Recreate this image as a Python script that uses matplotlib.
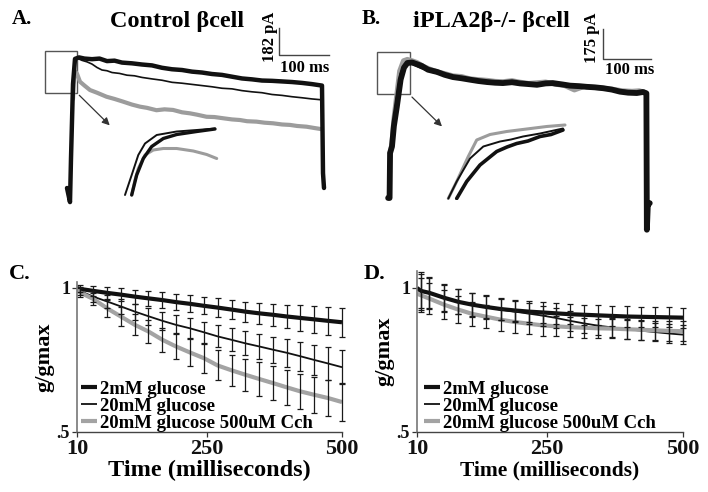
import matplotlib
matplotlib.use("Agg")
import matplotlib.pyplot as plt
from matplotlib.patches import Rectangle

plt.rcParams['font.family'] = ['Liberation Serif', 'DejaVu Serif']
plt.rcParams['font.weight'] = 'bold'
plt.rcParams['axes.labelweight'] = 'bold'

#### TRACE DATA (ms, pA) ####
# panel A, control beta cell
a_t_2mM = [-10, -4, -2, 2, 6, 14, 25, 40, 55, 70, 85, 100, 120, 140, 160, 180, 200, 220, 240,
           260, 280, 300, 320, 340, 360, 380, 400, 420, 440, 460, 480, 500, 502, 504]
a_i_2mM = [0, -95, 200, 700, 870, 880, 872, 868, 872, 855, 858, 845, 840, 832, 826, 810, 800, 795, 784,
           778, 768, 762, 750, 738, 732, 724, 722, 718, 714, 708, 700, 690, 100, 0]
a_t_20mM = [2, 6, 12, 20, 30, 40, 50, 60, 70, 80, 95, 110, 125, 140, 160, 180, 200, 220, 240, 260,
            280, 300, 320, 340, 360, 380, 400, 420, 440, 460, 480, 500]
a_i_20mM = [700, 868, 872, 860, 850, 835, 812, 795, 790, 778, 772, 760, 756, 745, 735, 726, 712, 706, 698, 690,
            682, 672, 668, 656, 648, 642, 630, 624, 615, 608, 600, 594]
a_t_cch = [2, 5, 10, 16, 25, 36, 50, 69, 85, 102, 120, 136, 150, 169, 185, 202, 220, 236, 250, 269,
           285, 302, 320, 336, 350, 369, 385, 402, 420, 436, 450, 469, 485, 500]
a_i_cch = [600, 790, 770, 716, 690, 660, 642, 615, 600, 582, 562, 548, 540, 524, 530, 526, 510, 503, 494, 480,
           478, 470, 462, 458, 450, 447, 440, 436, 428, 425, 418, 413, 404, 396]

# panel B, iPLA2b-/- beta cell
b_t_2mM = [-8, -5, -4, 0, 4, 10, 18, 25, 32, 42, 52, 62, 75, 94, 110, 127, 145, 162, 180, 198, 215, 231,
           250, 267, 285, 302, 320, 335, 355, 371, 390, 406, 423, 440, 458, 475, 492, 510, 523, 530, 531, 533, 537]
b_i_2mM = [0, 0, 262, 300, 420, 530, 690, 760, 787, 790, 780, 770, 748, 735, 718, 705, 698, 690, 682, 676, 672, 670,
           675, 668, 664, 660, 668, 670, 662, 655, 652, 648, 645, 640, 632, 620, 614, 612, 618, 610, -185, -40, -30]
b_t_20mM = [-4, 0, 4, 10, 18, 26, 35, 45, 60, 80, 100, 125, 150, 175, 200, 225, 250, 275, 300, 325,
            350, 375, 400, 425, 450, 475, 500, 515, 528]
b_i_20mM = [262, 310, 440, 570, 720, 775, 790, 780, 760, 740, 725, 705, 695, 684, 676, 670, 668, 664, 660, 662,
            658, 652, 648, 642, 636, 626, 618, 616, 612]
b_t_cch = [-4, 0, 4, 10, 16, 24, 32, 42, 52, 65, 80, 95, 110, 127, 145, 162, 180, 198, 215, 231, 250, 267,
           285, 302, 320, 340, 360, 380, 400, 420, 440, 460, 480, 500, 515, 528]
b_i_cch = [262, 320, 460, 600, 740, 800, 808, 800, 790, 768, 750, 735, 725, 712, 708, 695, 690, 686, 680, 678, 684, 675,
           668, 672, 676, 664, 655, 630, 650, 645, 640, 634, 625, 622, 625, 615]

# insets (rising phase, expanded)
ia_t_20mM = [1.0, 1.67, 2.33, 3.0, 4.17, 6.17, 8.17, 10.0]
ia_i_20mM = [10, 50, 90, 113, 130, 137, 140, 143]
ia_t_2mM = [1.67, 2.17, 2.83, 3.67, 4.83, 6.17, 8.17, 10.0]
ia_i_2mM = [10, 50, 83, 107, 123, 131, 137, 142]
ia_t_cch = [1.67, 2.0, 2.33, 3.0, 3.83, 4.83, 6.17, 7.83, 9.17, 10.17]
ia_i_cch = [10, 40, 63, 90, 100, 103, 103, 98, 91, 83]

ib_t_2mM = [1.17, 2.17, 3.5, 5.17, 6.2, 7.17, 8.3, 9.5, 10.6, 11.8]
ib_i_2mM = [3, 37, 70, 97, 106, 113, 118, 127, 131, 140]
ib_t_20mM = [0.33, 1.17, 2.5, 3.83, 5.5, 6.6, 7.8, 9.5, 11.8]
ib_i_20mM = [3, 37, 83, 107, 117, 121, 127, 133, 143]
ib_t_cch = [0.33, 1.17, 2.33, 3.17, 4.5, 6.17, 8.17, 10.17, 12.0]
ib_i_cch = [3, 37, 87, 120, 131, 137, 142, 147, 150]

#### g/gmax DATA ####
c_time = [10, 15, 40, 66, 91, 117, 142, 168, 193, 219, 245, 270, 296, 321, 347, 372, 398, 423, 449, 474, 500]
c_2mM = [1.0, 0.997, 0.99, 0.983, 0.977, 0.97, 0.964, 0.958, 0.951, 0.945, 0.938, 0.932, 0.925, 0.918, 0.912,
         0.907, 0.901, 0.896, 0.891, 0.886, 0.881]
c_2mM_err = [0, 0.012, 0.018, 0.02, 0.022, 0.024, 0.025, 0.027, 0.028, 0.029, 0.03, 0.032, 0.033, 0.035, 0.037,
             0.039, 0.041, 0.044, 0.046, 0.049, 0.051]
c_20mM = [1.0, 0.99, 0.97, 0.953, 0.936, 0.918, 0.902, 0.886, 0.872, 0.86, 0.846, 0.832, 0.82, 0.808, 0.797,
          0.786, 0.775, 0.763, 0.75, 0.738, 0.725]
c_20mM_err = [0, 0.015, 0.02, 0.024, 0.026, 0.028, 0.03, 0.032, 0.033, 0.035, 0.036, 0.038, 0.04, 0.041, 0.043,
              0.045, 0.048, 0.05, 0.053, 0.056, 0.06]
c_cch = [1.0, 0.985, 0.962, 0.929, 0.901, 0.872, 0.849, 0.82, 0.797, 0.776, 0.756, 0.731, 0.714, 0.699, 0.684,
         0.67, 0.655, 0.641, 0.629, 0.618, 0.604]
c_cch_err = [0, 0.015, 0.022, 0.028, 0.032, 0.036, 0.04, 0.042, 0.045, 0.047, 0.05, 0.052, 0.054, 0.056, 0.058,
             0.06, 0.061, 0.062, 0.063, 0.064, 0.065]

d_time = [10, 17, 33, 60, 86, 112, 138, 164, 190, 216, 242, 266, 292, 318, 344, 370, 396, 422, 448, 474, 500]
d_2mM = [1.0, 0.99, 0.983, 0.966, 0.952, 0.942, 0.934, 0.927, 0.922, 0.918, 0.915, 0.912, 0.909, 0.907, 0.905,
         0.903, 0.901, 0.9, 0.899, 0.898, 0.897]
d_2mM_err = [0, 0.065, 0.055, 0.048, 0.044, 0.042, 0.04, 0.038, 0.037, 0.036, 0.036, 0.036, 0.035, 0.035, 0.035,
             0.035, 0.035, 0.035, 0.035, 0.035, 0.035]
d_20mM = [1.0, 0.99, 0.982, 0.966, 0.952, 0.942, 0.933, 0.925, 0.918, 0.911, 0.904, 0.896, 0.886, 0.877, 0.869,
          0.863, 0.857, 0.852, 0.847, 0.842, 0.838]
d_20mM_err = [0, 0.06, 0.052, 0.046, 0.043, 0.04, 0.038, 0.037, 0.036, 0.036, 0.035, 0.035, 0.034, 0.034, 0.033,
              0.033, 0.033, 0.032, 0.032, 0.032, 0.032]
d_cch = [0.98, 0.975, 0.963, 0.942, 0.925, 0.91, 0.9, 0.89, 0.882, 0.876, 0.87, 0.867, 0.864, 0.862, 0.86,
         0.859, 0.857, 0.855, 0.853, 0.851, 0.85]
d_cch_err = [0, 0.06, 0.055, 0.05, 0.046, 0.043, 0.04, 0.038, 0.037, 0.036, 0.035, 0.035, 0.034, 0.034, 0.034,
             0.034, 0.034, 0.034, 0.034, 0.034, 0.034]

legend_labels = ['2mM glucose', '20mM glucose', '20mM glucose 500uM Cch']

BLACK = '#111111'
GRAY = '#9c9c9c'
W, H = 708, 492


def px(x, y):
    # pixel position -> figure fraction
    return x / W, 1 - y / H


def box(x0, y0, x1, y1):
    return [x0 / W, 1 - y1 / H, (x1 - x0) / W, (y1 - y0) / H]


fig = plt.figure(figsize=(7.08, 4.92), dpi=100)

#### TOP PANELS ####
def trace_panel(rect, xlim, ylim, traces, inset_rect, inset_xlim, inset_traces,
                zoom_box, arrow, bar, bar_labels):
    ax = fig.add_axes(rect)
    ax.set_xlim(*xlim)
    ax.set_ylim(*ylim)
    ax.axis('off')
    for t, i, c, lw in traces:
        ax.plot(t, i, color=c, lw=lw, solid_capstyle='round', solid_joinstyle='round')
    bx, by, bw, bh = zoom_box
    ax.add_patch(Rectangle((bx, by), bw, bh, fill=False, ec='#555555', lw=1.0))
    ax.annotate('', xy=arrow[1], xytext=arrow[0],
                arrowprops=dict(arrowstyle='-|>', color='#333333', lw=0.9, mutation_scale=11))
    t0, i0, dt, di = bar
    ax.plot([t0, t0, t0 + dt], [i0 + di, i0, i0], color='#444444', lw=1.0)
    ax.text(bar_labels[0][0], bar_labels[0][1], bar_labels[0][2], rotation=90,
            ha='center', va='center', fontsize=12)
    ax.text(bar_labels[1][0], bar_labels[1][1], bar_labels[1][2],
            ha='center', va='center', fontsize=12)
    ins = fig.add_axes(inset_rect)
    ins.set_xlim(*inset_xlim)
    ins.set_ylim(0, 160)
    ins.axis('off')
    for t, i, c, lw in inset_traces:
        ins.plot(t, i, color=c, lw=lw, solid_capstyle='round', solid_joinstyle='round')
    return ax


trace_panel(box(40, 5, 345, 215), (-64, 546), (-182, 1233),
            [(a_t_cch, a_i_cch, GRAY, 3.0), (a_t_2mM, a_i_2mM, BLACK, 3.2), (a_t_20mM, a_i_20mM, BLACK, 1.2)],
            box(115, 120, 225, 200), (0, 11),
            [(ia_t_cch, ia_i_cch, GRAY, 2.2), (ia_t_2mM, ia_i_2mM, BLACK, 2.4), (ia_t_20mM, ia_i_20mM, BLACK, 1.4)],
            (-53.4, 642, 64, 283), ((10.6, 638), (79.4, 409)),
            (414, 896, 100, 182),
            [(396, 1018, '182 pA'), (466, 809, '100 ms')])

trace_panel(box(370, 5, 700, 240), (-45.8, 641.7), (-244.9, 1125.2),
            [(b_t_cch, b_i_cch, GRAY, 3.6), (b_t_20mM, b_i_20mM, BLACK, 2.0), (b_t_2mM, b_i_2mM, BLACK, 4.2)],
            box(445, 120, 570, 200), (0, 12.5),
            [(ib_t_cch, ib_i_cch, GRAY, 2.2), (ib_t_20mM, ib_i_20mM, BLACK, 1.4), (ib_t_2mM, ib_i_2mM, BLACK, 2.6)],
            (-31.9, 604.6, 69.4, 244.8), ((37.5, 600), (108.3, 406)),
            (439.5, 810, 100, 175),
            [(416.6, 933, '175 pA'), (495.8, 746, '100 ms')])

fig.text(*px(22, 19), 'A.', ha='center', va='center', fontsize=15)
fig.text(*px(177, 22), 'Control \u03b2cell', ha='center', va='center', fontsize=17.5)
fig.text(*px(371, 19), 'B.', ha='center', va='center', fontsize=15)
fig.text(*px(491, 22), 'iPLA2\u03b2-/- \u03b2cell', ha='center', va='center', fontsize=17.5)
fig.text(*px(20, 274), 'C.', ha='center', va='center', fontsize=16)
fig.text(*px(374, 274), 'D.', ha='center', va='center', fontsize=16)

#### BOTTOM PANELS ####
def gmax_panel(rect, ytop, t, series, xlabel_size, leg_x):
    ax = fig.add_axes(rect)
    for vals, err, c, lw in series:
        ax.plot(t, vals, color=c, lw=lw, solid_capstyle='butt')
    for vals, err, c, lw in series:
        ax.errorbar(t[1:], vals[1:], yerr=err[1:], fmt='none', ecolor='#1a1a1a',
                    elinewidth=0.9, capsize=2.2, capthick=0.9, clip_on=False)
    ax.set_xlim(10, 500)
    ax.set_ylim(0.5, ytop)
    ax.spines['top'].set_visible(False)
    ax.spines['right'].set_visible(False)
    ax.spines['left'].set_color('#777777')
    ax.spines['bottom'].set_color('#444444')
    ax.spines['left'].set_linewidth(1.2)
    ax.spines['bottom'].set_linewidth(1.0)
    ax.set_yticks([0.5, 1])
    ax.set_yticklabels(['.5', '1'], fontsize=13)
    ax.set_xticks([10, 250, 500])
    ax.set_xticklabels(['10', '250', '500'], fontsize=16)
    ax.tick_params(axis='both', direction='out', length=3.5, width=0.9, colors='#333333', pad=1.5)
    ax.tick_params(axis='both', labelcolor='#111111')
    ax.set_xlabel('Time (milliseconds)', fontsize=xlabel_size, labelpad=1)
    ax.set_ylabel('g/gmax', fontsize=16, labelpad=2)
    handles = ax.get_lines()[:3]
    ax.legend(handles, legend_labels, loc='lower left', bbox_to_anchor=(leg_x, 0.0),
              frameon=False, fontsize=13.5, handlelength=0.85, handletextpad=0.15,
              borderpad=0, borderaxespad=0, labelspacing=0.0)
    return ax


axC = gmax_panel(box(77, 282, 342, 432), 1.0208, c_time,
                 [(c_2mM, c_2mM_err, BLACK, 3.0), (c_20mM, c_20mM_err, BLACK, 1.3),
                  (c_cch, c_cch_err, '#a3a3a3', 3.0)], 17.5, 0.015)
axD = gmax_panel(box(417, 271, 683, 432), 1.059, d_time,
                 [(d_2mM, d_2mM_err, BLACK, 3.0), (d_20mM, d_20mM_err, BLACK, 1.3),
                  (d_cch, d_cch_err, '#a3a3a3', 3.0)], 15.5, 0.026)

fig.savefig('out.png', dpi=100)
